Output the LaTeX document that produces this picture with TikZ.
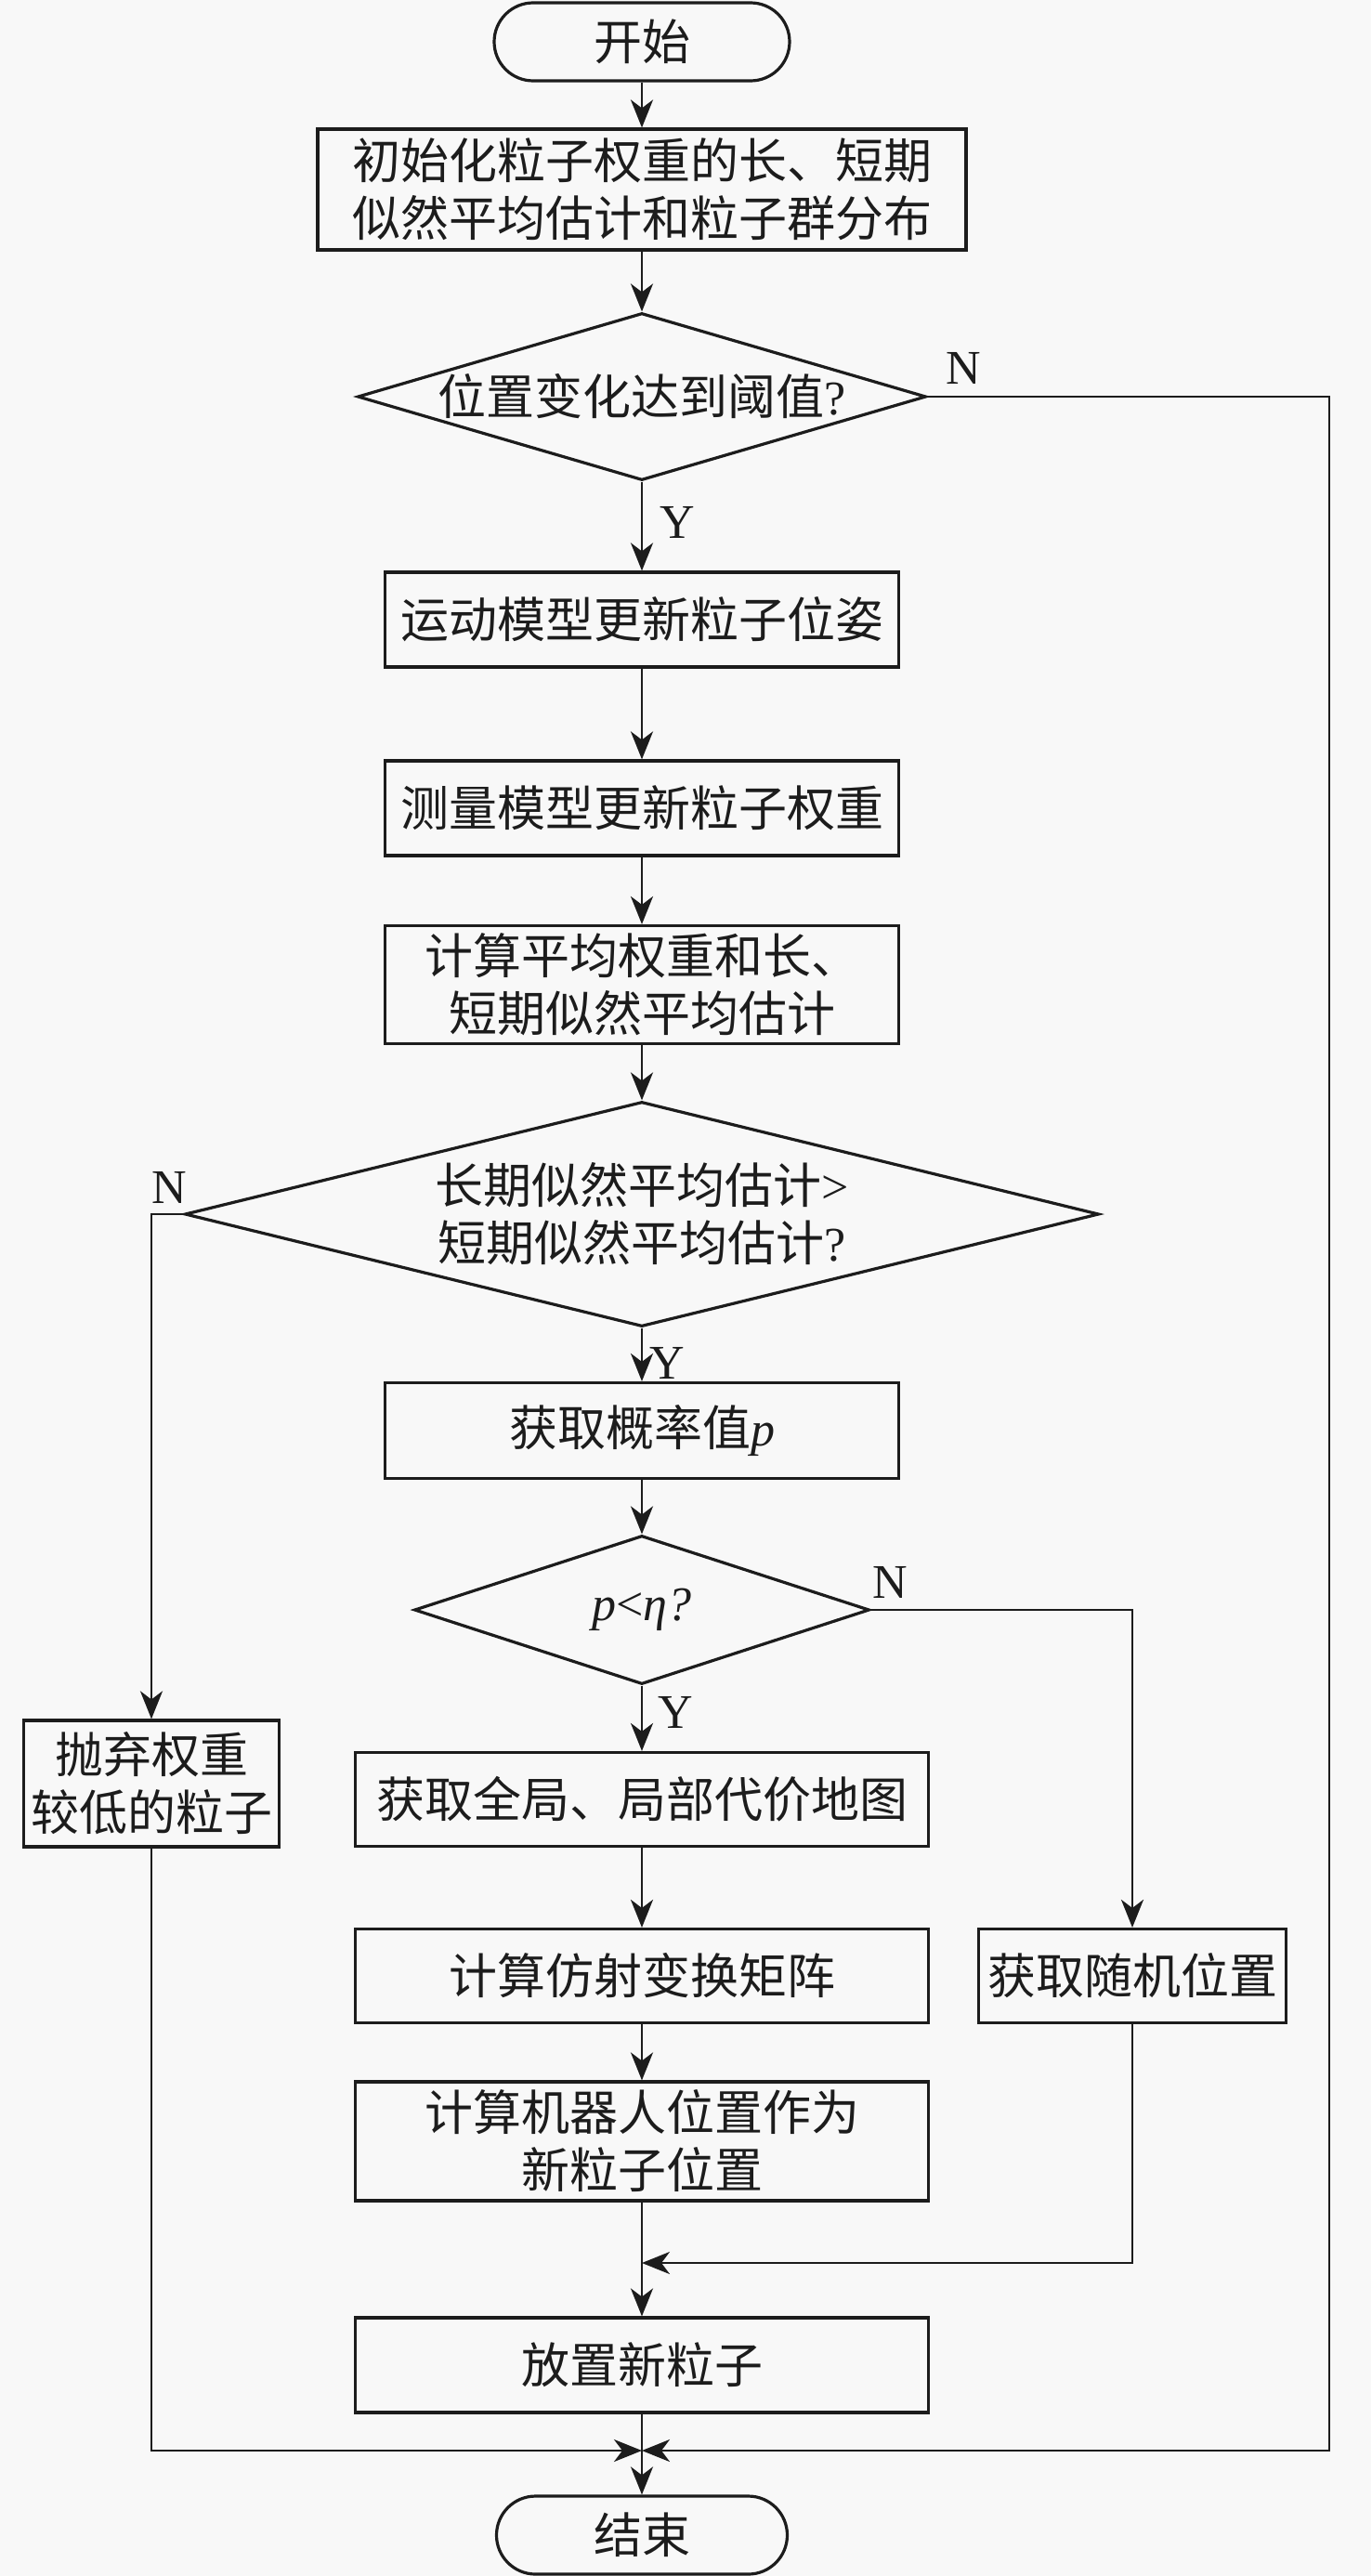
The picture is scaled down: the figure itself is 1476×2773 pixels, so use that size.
\documentclass[tikz,border=0pt]{standalone}
\usepackage{fontspec}
\setmainfont{Liberation Serif}
\newfontfamily\cjk{Noto Sans CJK SC}
\usetikzlibrary{shapes.geometric,arrows.meta}
\definecolor{bg}{HTML}{F8F8F8}
\definecolor{ink}{HTML}{1C1C1C}
\begin{document}
\begin{tikzpicture}[x=1pt,y=-1pt,
  every node/.style={font=\cjk\fontsize{52}{62}\selectfont, text=ink},
  procbox/.style={draw=ink, line width=3.2pt, rectangle, inner sep=0pt, align=center},
  termbox/.style={draw=ink, line width=3.2pt, rectangle, rounded corners=42pt, inner sep=0pt},
  decbox/.style={draw=ink, line width=3.2pt, diamond, inner sep=0pt, align=center},
  conn/.style={draw=ink, line width=2.8pt, -{Stealth[length=30pt,width=24pt,inset=9pt]}},
  lab/.style={font=\rmfamily\fontsize{52}{62}\selectfont, inner sep=0pt}
]
\useasboundingbox (0,0) rectangle (1476,2773);
\fill[bg] (0,0) rectangle (1476,2773);

% nodes
\node[termbox, minimum width=318pt, minimum height=84pt] (start) at (691,45) {开始};
\node[procbox, minimum width=698pt, minimum height=130pt] (init) at (691,204) {初始化粒子权重的长、短期\\似然平均估计和粒子群分布};
\node[decbox, minimum width=612pt, minimum height=180pt, aspect=3.4] (d1) at (691,427) {位置变化达到阈值{\rmfamily ?}};
\node[procbox, minimum width=553pt, minimum height=102pt] (b1) at (691,667) {运动模型更新粒子位姿};
\node[procbox, minimum width=553pt, minimum height=102pt] (b2) at (691,870) {测量模型更新粒子权重};
\node[procbox, minimum width=553pt, minimum height=127pt] (b3) at (691,1060) {计算平均权重和长、\\短期似然平均估计};
\node[decbox, minimum width=984pt, minimum height=242pt, aspect=4.07] (d2) at (691,1307) {长期似然平均估计{\rmfamily >}\\短期似然平均估计{\rmfamily ?}};
\node[procbox, minimum width=553pt, minimum height=103pt] (b4) at (691,1540) {获取概率值{\rmfamily\itshape p}};
\node[decbox, minimum width=490pt, minimum height=160pt, aspect=3.06] (d3) at (691,1733) {\rmfamily\itshape p{\upshape <}η?};
\node[procbox, minimum width=617pt, minimum height=101pt] (b5) at (691,1937) {获取全局、局部代价地图};
\node[procbox, minimum width=617pt, minimum height=101pt] (b6) at (691,2127) {计算仿射变换矩阵};
\node[procbox, minimum width=331pt, minimum height=101pt] (b7) at (1219,2127) {获取随机位置};
\node[procbox, minimum width=275pt, minimum height=136pt] (b8) at (163,1920) {抛弃权重\\较低的粒子};
\node[procbox, minimum width=617pt, minimum height=128pt] (b9) at (691,2305) {计算机器人位置作为\\新粒子位置};
\node[procbox, minimum width=617pt, minimum height=102pt] (b10) at (691,2546) {放置新粒子};
\node[termbox, minimum width=313pt, minimum height=84pt] (end) at (691,2729) {结束};

\coordinate (j) at (691,2638);
\coordinate (m) at (691,2436);
\coordinate (rr) at (1431,427);
\coordinate (rb) at (1431,2638);

% connectors
\draw[conn] (start) -- (init);
\draw[conn] (init) -- (d1);
\draw[conn] (d1) -- (b1);
\draw[conn] (b1) -- (b2);
\draw[conn] (b2) -- (b3);
\draw[conn] (b3) -- (d2);
\draw[conn] (d2) -- (b4);
\draw[conn] (b4) -- (d3);
\draw[conn] (d3) -- (b5);
\draw[conn] (b5) -- (b6);
\draw[conn] (b6) -- (b9);
\draw[conn] (b9) -- (b10);
\draw[conn] (b10) -- (end);
\draw[conn] (b7.south) |- (m);
\draw[conn] (d1.east) -- (rr) -- (rb) -- (j);
\draw[conn] (d2.west) -| (b8.north);
\draw[conn] (b8.south) |- (j);
\draw[conn] (d3.east) -| (b7.north);

% labels
\node[lab] (n1) at (1037,396) {N};
\node[lab] (y1) at (729,562) {Y};
\node[lab] (n2) at (182,1278) {N};
\node[lab] (y2) at (718,1467) {Y};
\node[lab] (n3) at (958,1703) {N};
\node[lab] (y3) at (727,1843) {Y};
\end{tikzpicture}
\end{document}
